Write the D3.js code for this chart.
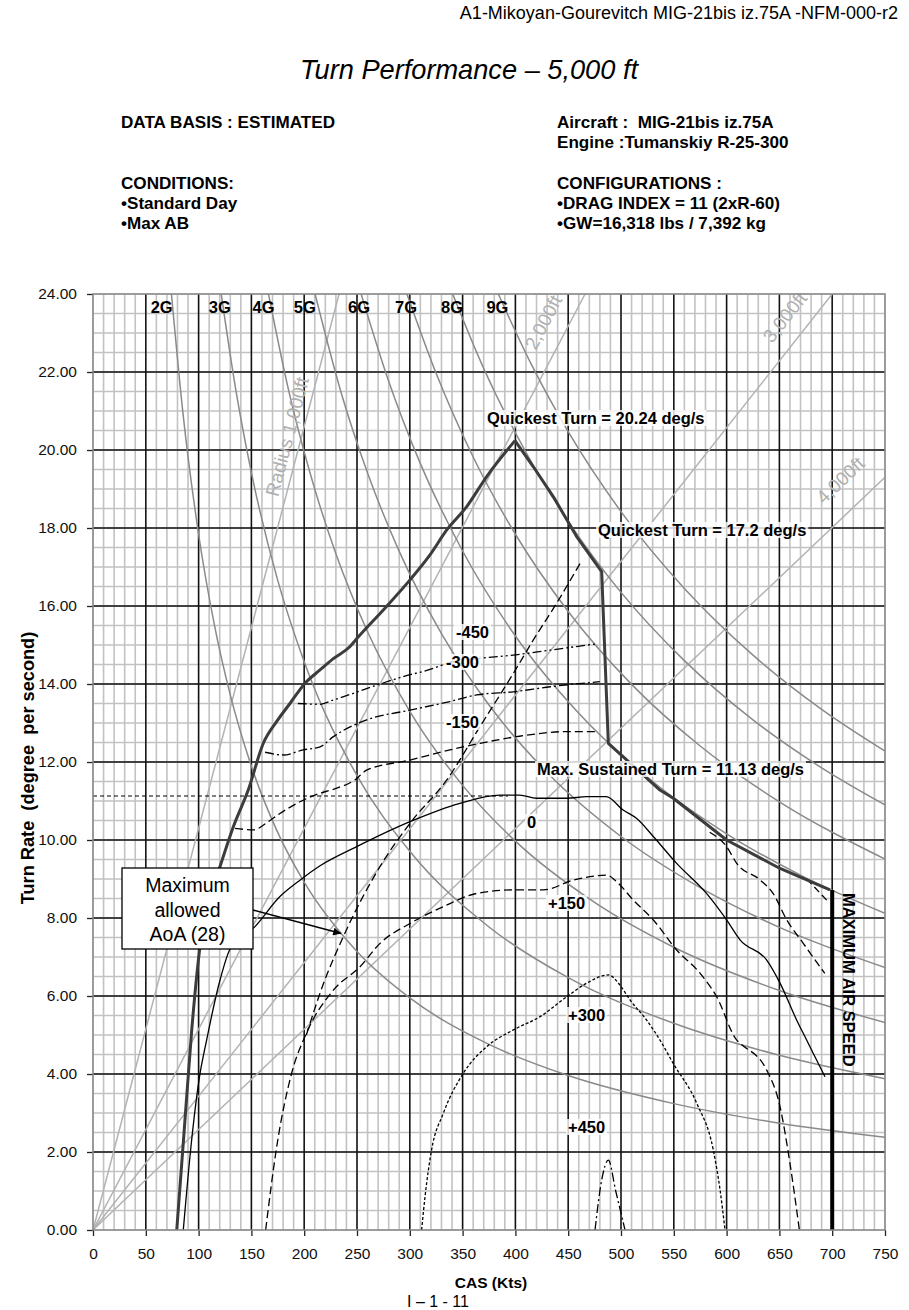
<!DOCTYPE html>
<html><head><meta charset="utf-8">
<script src="https://cdn.jsdelivr.net/npm/d3@7"></script>
<style>
body{margin:0;background:#fff}
svg text{font-family:Arial,"Liberation Sans",sans-serif}
</style></head>
<body><svg id="c" width="909" height="1310"></svg>
<script>
// ---------- data ----------
const xTickVals = [0,50,100,150,200,250,300,350,400,450,500,550,600,650,700,750];
const yTickVals = [0,2,4,6,8,10,12,14,16,18,20,22,24];
const gLabels = ["2G","3G","4G","5G","6G","7G","8G","9G"];
const gLabelSpeeds = [65,120,161.5,200.5,252,296.5,340,383];

const g2 = [[74.3,24],[85,20.99],[100,17.84],[115,15.51],[130,13.72],[150,11.89],[175,10.19],[200,8.92],[250,7.14],[300,5.95],[375,4.76],[450,3.96],[550,3.24],[650,2.74],[750,2.38]];
const g3 = [[121.4,24],[135,21.58],[150,19.42],[175,16.65],[200,14.57],[250,11.65],[300,9.71],[375,7.77],[450,6.47],[550,5.30],[650,4.48],[750,3.88]];
const g4 = [[166.2,24],[185,21.56],[205,19.46],[230,17.34],[260,15.34],[300,13.30],[350,11.40],[400,9.97],[475,8.40],[550,7.25],[650,6.14],[750,5.32]];
const g5 = [[210.3,24],[235,21.47],[260,19.41],[290,17.40],[330,15.29],[375,13.46],[430,11.73],[500,10.09],[575,8.78],[650,7.76],[750,6.73]];
const g6 = [[253.9,24],[280,21.76],[310,19.65],[350,17.41],[400,15.23],[460,13.25],[530,11.50],[600,10.16],[675,9.03],[750,8.12]];
const g7 = [[297.3,24],[325,21.96],[360,19.82],[400,17.84],[450,15.86],[510,13.99],[575,12.41],[650,10.98],[750,9.51]];
const g8 = [[340.6,24],[370,22.09],[410,19.94],[450,18.17],[500,16.35],[560,14.60],[625,13.08],[690,11.85],[750,10.90]];
const g9 = [[383.8,24],[415,22.20],[450,20.47],[500,18.42],[560,16.45],[625,14.74],[690,13.35],[750,12.28]];

const radius1000 = [[0,0],[233,24]];
const radius2000 = [[0,0],[466,24]];
const radius3000 = [[0,0],[700,24]];
const radius4000 = [[0,0],[750,19.3]];
const radiusLabels = ["Radius 1,000ft","2,000ft","3,000ft","4,000ft"];

const envelopeLow = [[79.3,0],[86.5,2.6],[93.5,5.13],[101.3,7.26],[110,8.45],[120.3,9.32],[132.9,10.34],[147,11.28],[161.3,12.48],[174,13.04],[186.5,13.5],[200.8,14.02],[215,14.36],[227.6,14.65],[243.4,14.96],[251.3,15.21],[274.9,15.9],[300.2,16.67],[319.1,17.31],[335,17.95],[353.9,18.55],[372.8,19.32],[399.6,20.24]];
const envelopeHigh = [[399.6,20.24],[417,19.57],[436,18.8],[458,17.78],[481.7,16.88],[488,12.48],[536.9,11.28],[549.5,11.07],[600,10.0],[650.6,9.27],[697.9,8.72]];
const maxAirSpeed = [[700,0],[700,8.72]];

const ps0 = [[85.5,0],[93,2.2],[100.4,3.85],[107.6,4.87],[120.3,6.41],[129.7,7.2],[153.4,7.78],[177,8.55],[196,8.97],[215,9.34],[249.7,9.83],[300.2,10.47],[347.5,10.94],[385.4,11.15],[404,11.15],[420,11.07],[448.6,11.07],[467.5,11.11],[486,11.11],[502,10.77],[514.9,10.55],[530.6,10.09],[552.7,9.4],[581,8.63],[600,7.95],[612.7,7.44],[638,6.92],[650.6,6.33],[666.4,5.38],[675.8,4.87],[682,4.53],[693.2,3.93]];
const psP150 = [[163.5,0],[174,2.14],[188.1,4.02],[202,5.04],[227.6,6.15],[252.8,6.75],[271.8,7.35],[300.2,7.86],[331.7,8.29],[363.3,8.63],[398,8.72],[426.4,8.72],[454.9,8.97],[486.4,9.1],[495.9,8.93],[511.6,8.46],[530.6,7.95],[552.7,7.18],[575,6.58],[590.6,5.98],[609.6,4.87],[612.7,4.79],[638,4.1],[650.6,3.16],[660,1.71],[668.9,0]];
const psP300 = [[311.2,0],[314.4,0.85],[320.6,2.05],[331.7,2.99],[350.7,4.02],[372.8,4.7],[398,5.13],[423.3,5.47],[448.6,5.98],[467.5,6.33],[488,6.54],[499,6.28],[508.5,5.9],[524.3,5.38],[536.9,4.87],[549.5,4.27],[571.7,3.25],[587.4,2.05],[593.8,1.03],[598.5,0]];
const psP450 = [[475.4,0],[481.7,1.28],[488,1.79],[495,1.0],[503.8,0]];
const psM150 = [[134.5,10.3],[151.8,10.26],[165,10.45],[177,10.68],[196,10.98],[215,11.2],[227.6,11.3],[248,11.54],[259.2,11.79],[300.2,12.05],[338,12.31],[366.5,12.48],[401.2,12.65],[448.6,12.78],[478.5,12.78]];
const psM150High = [[584,10.2],[600,9.83],[609.6,9.4],[632,8.97],[644,8.63],[657,7.95],[672.6,7.35],[693,6.58]];
const psM300 = [[163,12.25],[180.2,12.18],[199.1,12.31],[215,12.39],[227.6,12.65],[259.2,13.08],[300.2,13.33],[338,13.55],[363.3,13.72],[398,13.8],[433,13.93],[480,14.06]];
const psM300High = [[676,9.0],[695,8.45]];
const psM450 = [[194,13.5],[215,13.48],[227.6,13.59],[246.5,13.76],[268.6,13.97],[293.8,14.19],[322.3,14.4],[335,14.53],[366.5,14.66],[398,14.74],[433,14.87],[477,15.03]];
const aoaLimit = [[202,5.0],[218,6.3],[237,7.52],[271.8,9.32],[300.2,10.43],[335,11.54],[366.5,12.91],[398,14.27],[417,15.13],[439,16.07],[461.2,17.09]];
const maxSustained = [[0,11.13],[393,11.13]];

// ---------- layout ----------
const svg = d3.select("#c");
const L = 93, R = 885, T = 294, B = 1230;
const x = d3.scaleLinear().domain([0,750]).range([L,R]);
const y = d3.scaleLinear().domain([0,24]).range([B,T]);

const defs = svg.append("defs");
defs.append("clipPath").attr("id","plotclip")
  .append("rect").attr("x",L).attr("y",T).attr("width",R-L).attr("height",B-T);
defs.append("marker").attr("id","arrow").attr("viewBox","0 0 10 10")
  .attr("refX",10).attr("refY",5).attr("markerWidth",10).attr("markerHeight",8).attr("orient","auto")
  .attr("markerUnits","userSpaceOnUse")
  .append("path").attr("d","M0,0 L10,5 L0,10 z").attr("fill","#000");

const txt = (s,px,py,opt={}) => svg.append("text").attr("x",px).attr("y",py)
  .attr("font-size",opt.size||16.5).attr("font-weight",opt.weight||"bold")
  .attr("font-style",opt.style||"normal").attr("text-anchor",opt.anchor||"start")
  .attr("fill",opt.fill||"#000").style("white-space","pre").text(s);

// header texts
txt("A1-Mikoyan-Gourevitch MIG-21bis iz.75A -NFM-000-r2",898,19,{size:18,weight:"normal",anchor:"end"});
txt("Turn Performance – 5,000 ft",469,79,{size:27.2,weight:"normal",style:"italic",anchor:"middle"});
const hs = 17.1;
txt("DATA BASIS : ESTIMATED",121,128,{size:hs});
txt("Aircraft :  MIG-21bis iz.75A",557,128,{size:hs});
txt("Engine :Tumanskiy R-25-300",557,148,{size:hs});
txt("CONDITIONS:",121,189,{size:hs});
txt("•Standard Day",121,209,{size:hs});
txt("•Max AB",121,229,{size:hs});
txt("CONFIGURATIONS :",557,189,{size:hs});
txt("•DRAG INDEX = 11 (2xR-60)",557,209,{size:hs});
txt("•GW=16,318 lbs / 7,392 kg",557,229,{size:hs});

// grid
const g = svg.append("g");
g.selectAll(".vmin").data(d3.range(0,751,10)).enter().append("line")
  .attr("x1",d=>x(d)).attr("x2",d=>x(d)).attr("y1",T).attr("y2",B)
  .attr("stroke","#c2c2c2").attr("stroke-width",1.6);
g.selectAll(".hmin").data(d3.range(0,24.01,0.5)).enter().append("line")
  .attr("y1",d=>y(d)).attr("y2",d=>y(d)).attr("x1",L).attr("x2",R)
  .attr("stroke","#c2c2c2").attr("stroke-width",1.6);
g.selectAll(".vmaj").data(xTickVals.slice(1,-1)).enter().append("line")
  .attr("x1",d=>x(d)).attr("x2",d=>x(d)).attr("y1",T).attr("y2",B)
  .attr("stroke","#111").attr("stroke-width",1.5);
g.selectAll(".hmaj").data(yTickVals.slice(1,-1)).enter().append("line")
  .attr("y1",d=>y(d)).attr("y2",d=>y(d)).attr("x1",L).attr("x2",R)
  .attr("stroke","#111").attr("stroke-width",1.5);

// axes
const xAxis = d3.axisBottom(x).tickValues(xTickVals).tickSize(6).tickPadding(12).tickFormat(d3.format("d"));
const yAxis = d3.axisLeft(y).tickValues(yTickVals).tickSize(6).tickPadding(10).tickFormat(d3.format(".2f"));
const gx = svg.append("g").attr("transform",`translate(0,${B})`).call(xAxis);
const gy = svg.append("g").attr("transform",`translate(${L},0)`).call(yAxis);
[gx,gy].forEach(a=>{
  a.select(".domain").remove();
  a.selectAll(".tick line").attr("stroke","#222").attr("stroke-width",1.3);
  a.selectAll("text").attr("font-size",15.5).attr("fill","#111").attr("font-family","Arial, Liberation Sans, sans-serif");
});

// plot content clipped
const plot = svg.append("g").attr("clip-path","url(#plotclip)");
const lineLin = d3.line().x(d=>x(d[0])).y(d=>y(d[1]));
const lineSm = d3.line().x(d=>x(d[0])).y(d=>y(d[1])).curve(d3.curveMonotoneX);

[radius1000,radius2000,radius3000,radius4000].forEach(r=>{
  plot.append("path").attr("d",lineLin(r)).attr("fill","none").attr("stroke","#b2b2b2").attr("stroke-width",1.5);
});
[g2,g3,g4,g5,g6,g7,g8,g9].forEach(gl=>{
  plot.append("path").attr("d",lineSm(gl)).attr("fill","none").attr("stroke","#8a8a8a").attr("stroke-width",1.5);
});

function radLabel(s, v, w, slope){
  const ang = -Math.atan(slope*(y(0)-y(1))/(x(1)-x(0)))*180/Math.PI;
  svg.append("text").attr("transform",`translate(${x(v)},${y(w)}) rotate(${ang})`)
    .attr("text-anchor","middle").attr("font-size",19).attr("fill","#b0b0b0").text(s);
}
radLabel(radiusLabels[0], 190, 20.3, 24/233);
radLabel(radiusLabels[1], 432, 23.2, 24/466);
radLabel(radiusLabels[2], 660, 23.3, 24/700);
radLabel(radiusLabels[3], 712, 19.1, 19.3/750);

const curve = (data, dash, w=1.3, sm=true) => plot.append("path").attr("d",(sm?lineSm:lineLin)(data))
  .attr("fill","none").attr("stroke","#000").attr("stroke-width",w).attr("stroke-dasharray",dash);
curve(maxSustained,"4,3",1.1,false);
curve(psM450,"9,3,2,3,2,3");
curve(psM300,"9,3,2,3");
curve(psM300High,"7,4");
curve(psM150,"8,4");
curve(psM150High,"8,4");
curve(ps0,null,1.3,true);
curve(psP150,"8,4");
curve(aoaLimit,"8,4");
curve(psP300,"3,2");
curve(psP450,"9,3,2,3");

// envelope
plot.append("path").attr("d",lineSm(envelopeLow)).attr("fill","none").attr("stroke","#3c3c3c")
  .attr("stroke-width",3).attr("stroke-linejoin","round");
plot.append("path").attr("d",lineLin(envelopeHigh)).attr("fill","none").attr("stroke","#3c3c3c")
  .attr("stroke-width",3).attr("stroke-linejoin","round");
plot.append("path").attr("d",lineLin(maxAirSpeed)).attr("fill","none").attr("stroke","#000").attr("stroke-width",4);

svg.append("rect").attr("x",L).attr("y",T).attr("width",R-L).attr("height",B-T)
  .attr("fill","none").attr("stroke","#8a8a8a").attr("stroke-width",1.5);

function bgLabel(s, px, py, size=16.5, op=0.8){
  const t = txt(s,px,py,{size:size});
  const bb = t.node().getBBox();
  svg.insert("rect", function(){return t.node();})
    .attr("x",bb.x-2).attr("y",bb.y+1).attr("width",bb.width+4).attr("height",bb.height-2)
    .attr("fill","#fff").attr("opacity",op);
  return t;
}
gLabels.forEach((s,i)=>{ txt(s, x(gLabelSpeeds[i]), 313, {anchor:"middle"}); });
bgLabel("Quickest Turn = 20.24 deg/s",487,424);
bgLabel("Quickest Turn = 17.2 deg/s",598,536);
bgLabel("Max. Sustained Turn = 11.13 deg/s",537,775);
bgLabel("-450",456,638);
bgLabel("-300",446,668);
bgLabel("-150",446,728);
bgLabel("0",527,828);
bgLabel("+150",548,909);
bgLabel("+300",568,1021);
bgLabel("+450",568,1133);

svg.append("text").attr("transform","translate(843,893) rotate(90)")
  .attr("font-size",16.5).attr("font-weight","bold").text("MAXIMUM AIR SPEED");

svg.append("line").attr("x1",253).attr("y1",910).attr("x2",x(235)).attr("y2",y(7.6))
  .attr("stroke","#000").attr("stroke-width",1.6).attr("marker-end","url(#arrow)");
svg.append("rect").attr("x",122).attr("y",868).attr("width",131).attr("height",81)
  .attr("fill","#fff").attr("stroke","#000").attr("stroke-width",1.3);
["Maximum","allowed","AoA (28)"].forEach((s,i)=>{
  svg.append("text").attr("x",187.5).attr("y",892+i*24.5).attr("text-anchor","middle")
    .attr("font-size",19.5).text(s);
});

txt("CAS (Kts)",491,1288,{anchor:"middle",size:15.5});
svg.append("text").attr("transform","translate(34,768) rotate(-90)").attr("text-anchor","middle")
  .attr("font-size",18.2).attr("font-weight","bold").style("white-space","pre").text("Turn Rate  (degree  per second)");
txt("I – 1 - 11",438,1307,{anchor:"middle",size:16,weight:"normal"});
</script></body></html>
